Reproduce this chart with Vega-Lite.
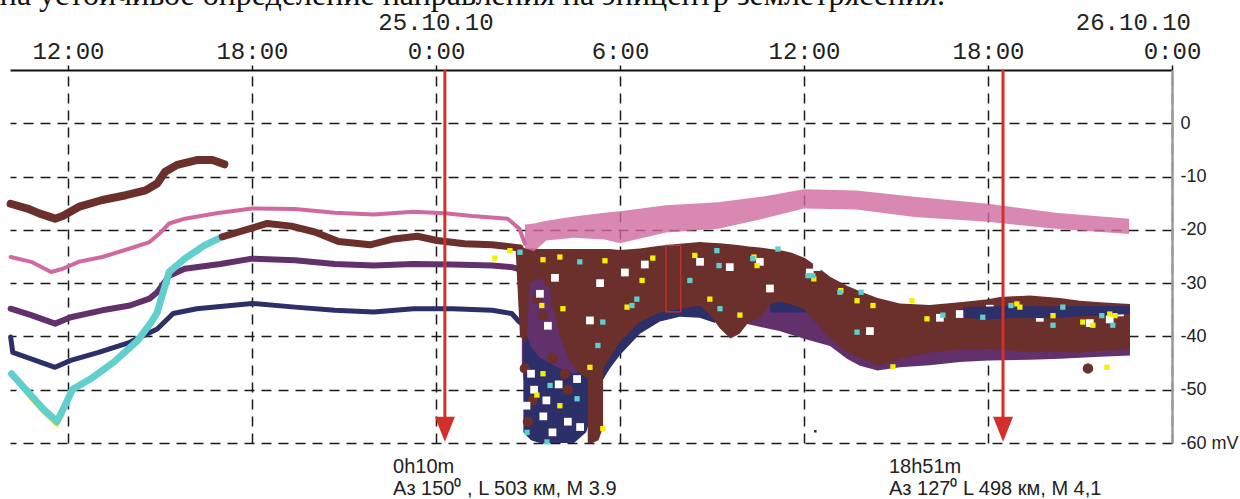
{
  "$schema": "https://vega.github.io/schema/vega-lite/v6.json",
  "width": 1162,
  "height": 373,
  "autosize": {"type": "none"},
  "padding": {"left": 10, "top": 70, "right": 68, "bottom": 56},
  "background": "white",
  "config": {"view": {"stroke": null}},
  "datasets": {
    "lines": [
      {"s":"A","h":10.13,"v":-15.1},{"s":"A","h":10.68,"v":-16.0},{"s":"A","h":11.06,"v":-16.9},{"s":"A","h":11.58,"v":-17.9},{"s":"A","h":11.83,"v":-17.4},{"s":"A","h":12.35,"v":-15.7},{"s":"A","h":13.12,"v":-14.4},{"s":"A","h":13.89,"v":-13.5},{"s":"A","h":14.53,"v":-12.6},{"s":"A","h":14.91,"v":-11.3},{"s":"A","h":15.17,"v":-9.1},{"s":"A","h":15.56,"v":-7.8},{"s":"A","h":16.2,"v":-6.9},{"s":"A","h":16.71,"v":-6.9},{"s":"A","h":17.1,"v":-7.7},
      {"s":"P","h":10.13,"v":-25.1},{"s":"P","h":10.8,"v":-26.0},{"s":"P","h":11.45,"v":-27.9},{"s":"P","h":11.83,"v":-27.3},{"s":"P","h":12.35,"v":-26.0},{"s":"P","h":13.12,"v":-25.1},{"s":"P","h":14.02,"v":-23.5},{"s":"P","h":14.66,"v":-22.3},{"s":"P","h":15.04,"v":-20.4},{"s":"P","h":15.3,"v":-18.8},{"s":"P","h":15.81,"v":-17.9},{"s":"P","h":16.84,"v":-16.9},{"s":"P","h":18.0,"v":-16.0},{"s":"P","h":19.4,"v":-16.1},{"s":"P","h":20.7,"v":-16.8},{"s":"P","h":21.97,"v":-17.1},{"s":"P","h":23.26,"v":-16.6},{"s":"P","h":24.29,"v":-16.9},{"s":"P","h":25.18,"v":-17.4},{"s":"P","h":26.34,"v":-17.9},{"s":"P","h":26.72,"v":-19.8},{"s":"P","h":26.9,"v":-22.6},
      {"s":"D","h":10.13,"v":-34.8},{"s":"D","h":10.8,"v":-36.0},{"s":"D","h":11.58,"v":-37.6},{"s":"D","h":12.09,"v":-36.4},{"s":"D","h":13.12,"v":-35.1},{"s":"D","h":14.02,"v":-34.2},{"s":"D","h":14.66,"v":-32.9},{"s":"D","h":14.91,"v":-31.7},{"s":"D","h":15.3,"v":-28.6},{"s":"D","h":15.81,"v":-27.3},{"s":"D","h":16.97,"v":-26.4},{"s":"D","h":18.0,"v":-25.4},{"s":"D","h":19.4,"v":-25.7},{"s":"D","h":20.7,"v":-26.4},{"s":"D","h":21.97,"v":-26.7},{"s":"D","h":23.26,"v":-26.4},{"s":"D","h":24.54,"v":-26.5},{"s":"D","h":25.83,"v":-26.7},{"s":"D","h":26.47,"v":-27.0},{"s":"D","h":26.8,"v":-27.5},
      {"s":"E","h":10.13,"v":-40.1},{"s":"E","h":10.2,"v":-43.0},{"s":"E","h":10.8,"v":-44.2},{"s":"E","h":11.58,"v":-45.8},{"s":"E","h":12.09,"v":-44.5},{"s":"E","h":13.0,"v":-43.0},{"s":"E","h":14.02,"v":-41.1},{"s":"E","h":14.91,"v":-38.6},{"s":"E","h":15.43,"v":-35.7},{"s":"E","h":16.2,"v":-34.8},{"s":"E","h":18.0,"v":-33.8},{"s":"E","h":19.4,"v":-34.5},{"s":"E","h":20.7,"v":-35.1},{"s":"E","h":21.97,"v":-35.4},{"s":"E","h":23.26,"v":-34.8},{"s":"E","h":24.54,"v":-34.8},{"s":"E","h":25.83,"v":-35.1},{"s":"E","h":26.47,"v":-35.7},{"s":"E","h":26.72,"v":-37.3},
      {"s":"Y","h":10.3,"v":-48.2},{"s":"Y","h":10.8,"v":-51.8},{"s":"Y","h":11.19,"v":-54.3},{"s":"Y","h":11.64,"v":-56.7},{"s":"Y","h":11.85,"v":-54.5},
      {"s":"C","h":10.16,"v":-47.0},{"s":"C","h":10.8,"v":-51.1},{"s":"C","h":11.19,"v":-53.6},{"s":"C","h":11.64,"v":-56.0},{"s":"C","h":11.9,"v":-53.0},{"s":"C","h":12.15,"v":-49.9},{"s":"C","h":12.73,"v":-48.0},{"s":"C","h":13.5,"v":-44.8},{"s":"C","h":14.27,"v":-40.8},{"s":"C","h":14.72,"v":-37.3},{"s":"C","h":14.91,"v":-35.5},{"s":"C","h":15.04,"v":-32.9},{"s":"C","h":15.3,"v":-27.9},{"s":"C","h":15.81,"v":-25.4},{"s":"C","h":16.45,"v":-22.9},{"s":"C","h":17.03,"v":-21.3},
      {"s":"B","h":17.03,"v":-21.3},{"s":"B","h":17.74,"v":-20.1},{"s":"B","h":18.5,"v":-18.8},{"s":"B","h":19.28,"v":-19.3},{"s":"B","h":20.05,"v":-20.4},{"s":"B","h":20.82,"v":-22.2},{"s":"B","h":21.85,"v":-22.8},{"s":"B","h":22.62,"v":-21.7},{"s":"B","h":23.39,"v":-21.2},{"s":"B","h":24.03,"v":-22.0},{"s":"B","h":24.93,"v":-22.6},{"s":"B","h":25.83,"v":-22.8},{"s":"B","h":26.47,"v":-23.2},{"s":"B","h":26.74,"v":-23.4}
    ],
    "areas": [
      {"s":"purple","g":1,"h":26.8,"v":-45,"hi":-26.5},{"s":"purple","g":1,"h":27.0,"v":-55,"hi":-26.5},{"s":"purple","g":1,"h":27.39,"v":-57,"hi":-27},{"s":"purple","g":1,"h":28.04,"v":-55,"hi":-27},{"s":"purple","g":1,"h":28.69,"v":-52,"hi":-28},{"s":"purple","g":1,"h":29.0,"v":-50,"hi":-30},{"s":"purple","g":1,"h":29.3,"v":-46,"hi":-32},
      {"s":"purple","g":2,"h":34.0,"v":-37.5,"hi":-30},{"s":"purple","g":2,"h":35.2,"v":-39,"hi":-31},{"s":"purple","g":2,"h":36.03,"v":-40.5,"hi":-33},{"s":"purple","g":2,"h":36.85,"v":-41.8,"hi":-33},{"s":"purple","g":2,"h":37.4,"v":-44.2,"hi":-33},{"s":"purple","g":2,"h":37.82,"v":-45.5,"hi":-33},{"s":"purple","g":2,"h":38.4,"v":-46.4,"hi":-34},{"s":"purple","g":2,"h":39.13,"v":-45.8,"hi":-35},{"s":"purple","g":2,"h":40.1,"v":-45.4,"hi":-36},{"s":"purple","g":2,"h":41.08,"v":-44.8,"hi":-37},{"s":"purple","g":2,"h":42.0,"v":-44.5,"hi":-37},{"s":"purple","g":2,"h":43.37,"v":-44.4,"hi":-37},{"s":"purple","g":2,"h":44.34,"v":-44.2,"hi":-37},{"s":"purple","g":2,"h":45.65,"v":-43.8,"hi":-37},{"s":"purple","g":2,"h":46.63,"v":-43.6,"hi":-37},
      {"s":"navy","g":1,"h":26.85,"v":-58,"hi":-38},{"s":"navy","g":1,"h":27.1,"v":-59.5,"hi":-42},{"s":"navy","g":1,"h":27.39,"v":-60,"hi":-44},{"s":"navy","g":1,"h":28.04,"v":-60,"hi":-46},{"s":"navy","g":1,"h":28.5,"v":-60,"hi":-47},{"s":"navy","g":1,"h":28.9,"v":-58,"hi":-46},{"s":"navy","g":1,"h":29.35,"v":-49,"hi":-44},{"s":"navy","g":1,"h":29.67,"v":-46,"hi":-41},{"s":"navy","g":1,"h":30.0,"v":-43.5,"hi":-38},{"s":"navy","g":1,"h":30.65,"v":-39.5,"hi":-35.5},{"s":"navy","g":1,"h":31.3,"v":-37.2,"hi":-34},{"s":"navy","g":1,"h":31.95,"v":-36.3,"hi":-33},{"s":"navy","g":1,"h":32.6,"v":-36.5,"hi":-33.5},{"s":"navy","g":1,"h":33.1,"v":-37.5,"hi":-35},
      {"s":"navy","g":2,"h":34.9,"v":-35.5,"hi":-33.5},{"s":"navy","g":2,"h":35.6,"v":-35.5,"hi":-33.3},{"s":"navy","g":2,"h":36.2,"v":-35.5,"hi":-33.8},
      {"s":"brown","g":1,"h":26.6,"v":-24,"hi":-22.8},{"s":"brown","g":1,"h":26.74,"v":-40,"hi":-23.2},{"s":"brown","g":1,"h":26.95,"v":-41,"hi":-23.5},{"s":"brown","g":1,"h":27.06,"v":-30,"hi":-23.5},{"s":"brown","g":1,"h":27.39,"v":-29,"hi":-23.6},{"s":"brown","g":1,"h":27.7,"v":-31,"hi":-23.6},{"s":"brown","g":1,"h":28.04,"v":-40,"hi":-23.6},{"s":"brown","g":1,"h":28.4,"v":-45,"hi":-23.6},{"s":"brown","g":1,"h":28.69,"v":-47,"hi":-23.6},{"s":"brown","g":1,"h":29.02,"v":-48,"hi":-23.6},{"s":"brown","g":1,"h":29.35,"v":-47,"hi":-23.6},{"s":"brown","g":1,"h":29.67,"v":-44,"hi":-23.6},{"s":"brown","g":1,"h":30.0,"v":-41,"hi":-23.8},{"s":"brown","g":1,"h":30.65,"v":-37.3,"hi":-23.5},{"s":"brown","g":1,"h":31.3,"v":-35.5,"hi":-23.0},{"s":"brown","g":1,"h":31.95,"v":-34.8,"hi":-22.6},{"s":"brown","g":1,"h":32.6,"v":-34.2,"hi":-22.3},{"s":"brown","g":1,"h":32.93,"v":-36,"hi":-22.4},{"s":"brown","g":1,"h":33.26,"v":-38.5,"hi":-22.5},{"s":"brown","g":1,"h":33.6,"v":-40.4,"hi":-22.7},{"s":"brown","g":1,"h":33.9,"v":-39.5,"hi":-22.9},{"s":"brown","g":1,"h":34.2,"v":-37.3,"hi":-23.1},{"s":"brown","g":1,"h":34.56,"v":-36.5,"hi":-23.3},{"s":"brown","g":1,"h":34.9,"v":-34,"hi":-23.6},{"s":"brown","g":1,"h":35.2,"v":-33.5,"hi":-23.8},{"s":"brown","g":1,"h":35.6,"v":-34,"hi":-24.3},{"s":"brown","g":1,"h":36.03,"v":-35,"hi":-25.3},{"s":"brown","g":1,"h":36.4,"v":-37.5,"hi":-26.8},{"s":"brown","g":1,"h":36.85,"v":-40.4,"hi":-28.8},{"s":"brown","g":1,"h":37.4,"v":-42.9,"hi":-30.5},{"s":"brown","g":1,"h":37.82,"v":-44,"hi":-31.5},{"s":"brown","g":1,"h":38.4,"v":-45.5,"hi":-32.8},{"s":"brown","g":1,"h":39.13,"v":-44.2,"hi":-33.8},{"s":"brown","g":1,"h":40.1,"v":-43,"hi":-34.1},{"s":"brown","g":1,"h":41.08,"v":-42.5,"hi":-33.6},{"s":"brown","g":1,"h":42.0,"v":-42.3,"hi":-33.0},{"s":"brown","g":1,"h":42.39,"v":-42.5,"hi":-32.6},{"s":"brown","g":1,"h":43.37,"v":-42.9,"hi":-32.3},{"s":"brown","g":1,"h":44.34,"v":-42.9,"hi":-32.8},{"s":"brown","g":1,"h":45.0,"v":-43,"hi":-33.3},{"s":"brown","g":1,"h":45.65,"v":-42.7,"hi":-33.6},{"s":"brown","g":1,"h":46.63,"v":-42.5,"hi":-33.9},
      {"s":"brown","g":2,"h":28.95,"v":-60,"hi":-44},{"s":"brown","g":2,"h":29.1,"v":-60,"hi":-44},{"s":"brown","g":2,"h":29.3,"v":-59.5,"hi":-44},{"s":"brown","g":2,"h":29.45,"v":-57,"hi":-44},
      {"s":"navytop","g":1,"h":41.2,"v":-36.5,"hi":-34.5},{"s":"navytop","g":1,"h":42.0,"v":-36.8,"hi":-34.4},{"s":"navytop","g":1,"h":43.0,"v":-36.5,"hi":-34.3},{"s":"navytop","g":1,"h":44.0,"v":-36.6,"hi":-34.4},{"s":"navytop","g":1,"h":45.0,"v":-36.2,"hi":-34.3},{"s":"navytop","g":1,"h":46.0,"v":-36.0,"hi":-34.3},{"s":"navytop","g":1,"h":46.63,"v":-35.8,"hi":-34.3},
      {"s":"pink","g":1,"h":26.9,"v":-23.5,"hi":-19},{"s":"pink","g":1,"h":27.2,"v":-24,"hi":-18.8},{"s":"pink","g":1,"h":27.6,"v":-22,"hi":-18.3},{"s":"pink","g":1,"h":28.5,"v":-21.5,"hi":-17.5},{"s":"pink","g":1,"h":29.5,"v":-21.8,"hi":-16.8},{"s":"pink","g":1,"h":30.0,"v":-22.5,"hi":-16.5},{"s":"pink","g":1,"h":31.5,"v":-20.5,"hi":-15.4},{"s":"pink","g":1,"h":33.2,"v":-19.8,"hi":-14.8},{"s":"pink","g":1,"h":34.6,"v":-18,"hi":-13.8},{"s":"pink","g":1,"h":36.0,"v":-16,"hi":-12.4},{"s":"pink","g":1,"h":37.7,"v":-16.2,"hi":-12.6},{"s":"pink","g":1,"h":39.6,"v":-17.6,"hi":-13.8},{"s":"pink","g":1,"h":42.0,"v":-18.5,"hi":-15.1},{"s":"pink","g":1,"h":44.2,"v":-19.8,"hi":-16.8},{"s":"pink","g":1,"h":46.6,"v":-20.8,"hi":-17.9}
    ],
    "specks": [
      {"k":"blob","h":27.0,"v":-56},{"k":"blob","h":27.15,"v":-52},{"k":"blob","h":28.3,"v":-50},{"k":"blob","h":28.2,"v":-47},{"k":"blob","h":26.9,"v":-46},{"k":"blob","h":27.8,"v":-44},{"k":"blob","h":27.5,"v":-36},{"k":"blob","h":27.3,"v":-33},{"k":"blob","h":27.9,"v":-34},{"k":"blob","h":45.26,"v":-46},
      {"k":"white","h":38.15,"v":-39},{"k":"white","h":42.06,"v":-34.8},{"k":"white","h":42.39,"v":-35.2},{"k":"white","h":43.69,"v":-36.5},{"k":"white","h":45.32,"v":-37.5},{"k":"white","h":45.97,"v":-36.8},{"k":"white","h":46.3,"v":-35.5},{"k":"white","h":36.19,"v":-28},{"k":"white","h":36.42,"v":-27},{"k":"white","h":32.61,"v":-26},{"k":"white","h":33.58,"v":-27},{"k":"white","h":30.16,"v":-28},{"k":"white","h":30.81,"v":-26.5},{"k":"white","h":27.39,"v":-32},{"k":"white","h":27.88,"v":-29},{"k":"white","h":27.65,"v":-38},{"k":"white","h":29.35,"v":-30},{"k":"white","h":29.02,"v":-37},{"k":"white","h":34.56,"v":-26},{"k":"white","h":34.89,"v":-31},{"k":"white","h":40.43,"v":-36.5},{"k":"white","h":41.08,"v":-35.8},
      {"k":"white","h":27.2,"v":-50},{"k":"white","h":27.5,"v":-55},{"k":"white","h":27.8,"v":-58},{"k":"white","h":28.3,"v":-56},{"k":"white","h":28.6,"v":-48},{"k":"white","h":27.1,"v":-47},{"k":"white","h":27.6,"v":-52},{"k":"white","h":28.0,"v":-49},{"k":"white","h":28.7,"v":-57},{"k":"white","h":26.95,"v":-53},
      {"k":"yellow","h":25.92,"v":-25.3},{"k":"yellow","h":26.41,"v":-23.9},{"k":"yellow","h":27.49,"v":-25.6},{"k":"yellow","h":28.04,"v":-25.1},{"k":"yellow","h":29.51,"v":-25.8},{"k":"yellow","h":30.72,"v":-29.5},{"k":"yellow","h":31.07,"v":-25.3},{"k":"yellow","h":27.45,"v":-34.2},{"k":"yellow","h":28.14,"v":-34.8},{"k":"yellow","h":30.23,"v":-34.5},{"k":"yellow","h":32.93,"v":-33},{"k":"yellow","h":27.29,"v":-51},{"k":"yellow","h":28.04,"v":-53},{"k":"yellow","h":29.44,"v":-57.3},{"k":"yellow","h":27.49,"v":-47},{"k":"yellow","h":29.02,"v":-45.8},{"k":"yellow","h":33.91,"v":-36},{"k":"yellow","h":34.47,"v":-26.7},{"k":"yellow","h":32.44,"v":-24.8},{"k":"yellow","h":34.37,"v":-25.1},{"k":"yellow","h":36.32,"v":-29.2},{"k":"yellow","h":37.2,"v":-31.4},{"k":"yellow","h":37.73,"v":-33.3},{"k":"yellow","h":39.52,"v":-33.3},{"k":"yellow","h":42.94,"v":-33.9},{"k":"yellow","h":45.97,"v":-35.8},{"k":"yellow","h":38.25,"v":-34.2},{"k":"yellow","h":40.01,"v":-36.7},{"k":"yellow","h":43.04,"v":-34.5},{"k":"yellow","h":44.12,"v":-36.1},{"k":"yellow","h":45.09,"v":-37.3},{"k":"yellow","h":45.42,"v":-37.9},{"k":"yellow","h":46.14,"v":-36.1},{"k":"yellow","h":45.88,"v":-45.8},{"k":"yellow","h":38.9,"v":-45.7},
      {"k":"cyan","h":26.74,"v":-24.2},{"k":"cyan","h":28.69,"v":-26},{"k":"cyan","h":30.39,"v":-34.2},{"k":"cyan","h":29.44,"v":-37.3},{"k":"cyan","h":32.28,"v":-29.5},{"k":"cyan","h":33.26,"v":-34.8},{"k":"cyan","h":34.33,"v":-25.4},{"k":"cyan","h":35.15,"v":-23.6},{"k":"cyan","h":26.97,"v":-58},{"k":"cyan","h":27.62,"v":-59.8},{"k":"cyan","h":27.72,"v":-49.2},{"k":"cyan","h":28.6,"v":-51.7},{"k":"cyan","h":29.28,"v":-41.7},{"k":"cyan","h":30.55,"v":-33},{"k":"cyan","h":33.16,"v":-23.9},{"k":"cyan","h":33.23,"v":-26.7},{"k":"cyan","h":36.13,"v":-28.6},{"k":"cyan","h":37.86,"v":-31.7},{"k":"cyan","h":42.75,"v":-34.2},{"k":"cyan","h":44.44,"v":-34.5},{"k":"cyan","h":45.71,"v":-36.1},{"k":"cyan","h":37.17,"v":-31.7},{"k":"cyan","h":37.73,"v":-39.2},{"k":"cyan","h":40.53,"v":-36},{"k":"cyan","h":41.83,"v":-36.4},{"k":"cyan","h":44.12,"v":-37.9},{"k":"cyan","h":46.07,"v":-37.9},{"k":"cyan","h":36.29,"v":-28.6},
      {"k":"dark","h":36.37,"v":-57.8}
    ],
    "arrows": [{"h": 24.29, "v": 10, "lo": -56}, {"h": 42.49, "v": 10, "lo": -56}],
    "heads": [{"h": 24.29, "v": -57.4}, {"h": 42.49, "v": -57.4}],
    "notes": [
      {"k":"ann","h":22.6,"v":-65.6,"t":"0h10m"},
      {"k":"ann","h":22.6,"v":-69.8,"t":"Аз 150⁰ , L 503 км, M 3.9"},
      {"k":"ann","h":38.77,"v":-65.6,"t":"18h51m"},
      {"k":"ann","h":38.77,"v":-69.8,"t":"Аз 127⁰   L 498 км, M 4,1"},
      {"k":"date","h":24,"v":17.5,"t":"25.10.10"},
      {"k":"dateEnd","h":48,"v":17.5,"t":"26.10.10"},
      {"k":"head","h":40.6,"v":22.2,"t":"на устойчивое определение направления на эпицентр землетрясения."}
    ]
  },
  "encoding": {
    "x": {
      "field": "h", "type": "quantitative",
      "scale": {"domain": [10.11, 48], "nice": false, "zero": false},
      "axis": {
        "orient": "top", "title": null,
        "values": [12, 18, 24, 30, 36, 42, 48],
        "labelExpr": "(datum.value % 24) + ':00'",
        "domainColor": "#111111", "domainWidth": 2,
        "tickColor": "#111111", "tickSize": 5, "tickWidth": 1.5,
        "labelFont": "Liberation Mono", "labelFontSize": 24, "labelColor": "#222222",
        "labelBaseline": "alphabetic", "labelPadding": 7, "labelFlush": false, "labelOverlap": false,
        "grid": true, "gridColor": "#1a1a1a", "gridWidth": 1.5, "gridDash": [10, 7]
      }
    },
    "y": {
      "field": "v", "type": "quantitative",
      "scale": {"domain": [-60, 10], "nice": false, "zero": false},
      "axis": {
        "orient": "right", "title": null,
        "values": [0, -10, -20, -30, -40, -50, -60],
        "labelExpr": "datum.value == -60 ? '-60 mV' : '' + datum.value",
        "domainColor": "#9a9a9a", "domainWidth": 2.5, "ticks": false,
        "labelFont": "Liberation Sans", "labelFontSize": 18, "labelColor": "#222222",
        "labelPadding": 8, "labelOverlap": false,
        "grid": true, "gridColor": "#1a1a1a", "gridWidth": 1.5, "gridDash": [10, 7]
      }
    }
  },
  "layer": [
    {"mark": {"type": "rule", "color": "#9a9a9a", "strokeWidth": 2}, "encoding": {"x": {"datum": 10.11}, "x2": {"datum": 48}, "y": {"datum": -60}}},
    {"data": {"name": "lines"}, "transform": [{"filter": "datum.s == 'P'"}], "mark": {"type": "line", "color": "#d06a9e", "strokeWidth": 4, "strokeJoin": "round", "strokeCap": "round"}},
    {"data": {"name": "lines"}, "transform": [{"filter": "datum.s == 'D'"}], "mark": {"type": "line", "color": "#62306a", "strokeWidth": 6, "strokeJoin": "round", "strokeCap": "round"}},
    {"data": {"name": "lines"}, "transform": [{"filter": "datum.s == 'E'"}], "mark": {"type": "line", "color": "#2d2f68", "strokeWidth": 5, "strokeJoin": "round", "strokeCap": "round"}},
    {"data": {"name": "lines"}, "transform": [{"filter": "datum.s == 'Y'"}], "mark": {"type": "line", "color": "#f2ee00", "strokeWidth": 3, "strokeJoin": "round"}},
    {"data": {"name": "lines"}, "transform": [{"filter": "datum.s == 'C'"}], "mark": {"type": "line", "color": "#62cfcf", "strokeWidth": 7, "strokeJoin": "round", "strokeCap": "round"}},
    {"data": {"name": "lines"}, "transform": [{"filter": "datum.s == 'A'"}], "mark": {"type": "line", "color": "#6b2f2c", "strokeWidth": 8, "strokeJoin": "round", "strokeCap": "round"}},
    {"data": {"name": "lines"}, "transform": [{"filter": "datum.s == 'B'"}], "mark": {"type": "line", "color": "#6b2f2c", "strokeWidth": 7, "strokeJoin": "round", "strokeCap": "round"}},
    {"data": {"name": "areas"}, "transform": [{"filter": "datum.s == 'purple'"}], "mark": {"type": "area", "color": "#62306a"}, "encoding": {"y2": {"field": "hi"}, "detail": {"field": "g"}}},
    {"data": {"name": "areas"}, "transform": [{"filter": "datum.s == 'navy'"}], "mark": {"type": "area", "color": "#2d2f68"}, "encoding": {"y2": {"field": "hi"}, "detail": {"field": "g"}}},
    {"data": {"name": "areas"}, "transform": [{"filter": "datum.s == 'brown'"}], "mark": {"type": "area", "color": "#6b2f2c"}, "encoding": {"y2": {"field": "hi"}, "detail": {"field": "g"}}},
    {"data": {"name": "specks"}, "transform": [{"filter": "datum.k == 'blob'"}], "mark": {"type": "point", "shape": "circle", "filled": true, "size": 110, "color": "#6b2f2c", "opacity": 1}},
    {"data": {"name": "specks"}, "transform": [{"filter": "datum.k == 'white'"}], "mark": {"type": "point", "shape": "square", "filled": true, "size": 60, "color": "#ffffff", "opacity": 1}},
    {"data": {"name": "areas"}, "transform": [{"filter": "datum.s == 'navytop'"}], "mark": {"type": "area", "color": "#2d2f68"}, "encoding": {"y2": {"field": "hi"}, "detail": {"field": "g"}}},
    {"data": {"name": "areas"}, "transform": [{"filter": "datum.s == 'pink'"}], "mark": {"type": "area", "color": "#d06a9e", "opacity": 0.8}, "encoding": {"y2": {"field": "hi"}, "detail": {"field": "g"}}},
    {"data": {"name": "specks"}, "transform": [{"filter": "datum.k == 'yellow'"}], "mark": {"type": "point", "shape": "square", "filled": true, "size": 28, "color": "#f5f000", "opacity": 1}},
    {"data": {"name": "specks"}, "transform": [{"filter": "datum.k == 'cyan'"}], "mark": {"type": "point", "shape": "square", "filled": true, "size": 28, "color": "#5ecfcf", "opacity": 1}},
    {"data": {"name": "specks"}, "transform": [{"filter": "datum.k == 'dark'"}], "mark": {"type": "point", "shape": "square", "filled": true, "size": 6, "color": "#222222", "opacity": 1}},
    {"data": {"values": [{"h": 31.5, "h2": 31.98, "v": -35.4, "hi": -22.9}]}, "mark": {"type": "rect", "fillOpacity": 0, "stroke": "#c8322c", "strokeWidth": 1.3}, "encoding": {"x2": {"field": "h2"}, "y2": {"field": "hi"}}},
    {"data": {"name": "arrows"}, "mark": {"type": "rule", "color": "#d3302b", "strokeWidth": 3}, "encoding": {"y2": {"field": "lo"}}},
    {"data": {"name": "heads"}, "mark": {"type": "point", "shape": "M-0.8,-1L0.8,-1L0,1Z", "filled": true, "size": 625, "color": "#d3302b", "opacity": 1, "strokeWidth": 0}},
    {"data": {"name": "notes"}, "transform": [{"filter": "datum.k == 'ann'"}], "mark": {"type": "text", "align": "left", "baseline": "alphabetic", "font": "Liberation Sans", "fontSize": 20, "color": "#222222"}, "encoding": {"text": {"field": "t"}}},
    {"data": {"name": "notes"}, "transform": [{"filter": "datum.k == 'date'"}], "mark": {"type": "text", "align": "center", "baseline": "alphabetic", "font": "Liberation Mono", "fontSize": 24, "color": "#222222"}, "encoding": {"text": {"field": "t"}}},
    {"data": {"name": "notes"}, "transform": [{"filter": "datum.k == 'dateEnd'"}], "mark": {"type": "text", "align": "right", "dx": 19, "baseline": "alphabetic", "font": "Liberation Mono", "fontSize": 24, "color": "#222222"}, "encoding": {"text": {"field": "t"}}},
    {"data": {"name": "notes"}, "transform": [{"filter": "datum.k == 'head'"}], "mark": {"type": "text", "align": "right", "baseline": "alphabetic", "font": "Liberation Serif", "fontSize": 32, "color": "#111111"}, "encoding": {"text": {"field": "t"}}}
  ]
}
